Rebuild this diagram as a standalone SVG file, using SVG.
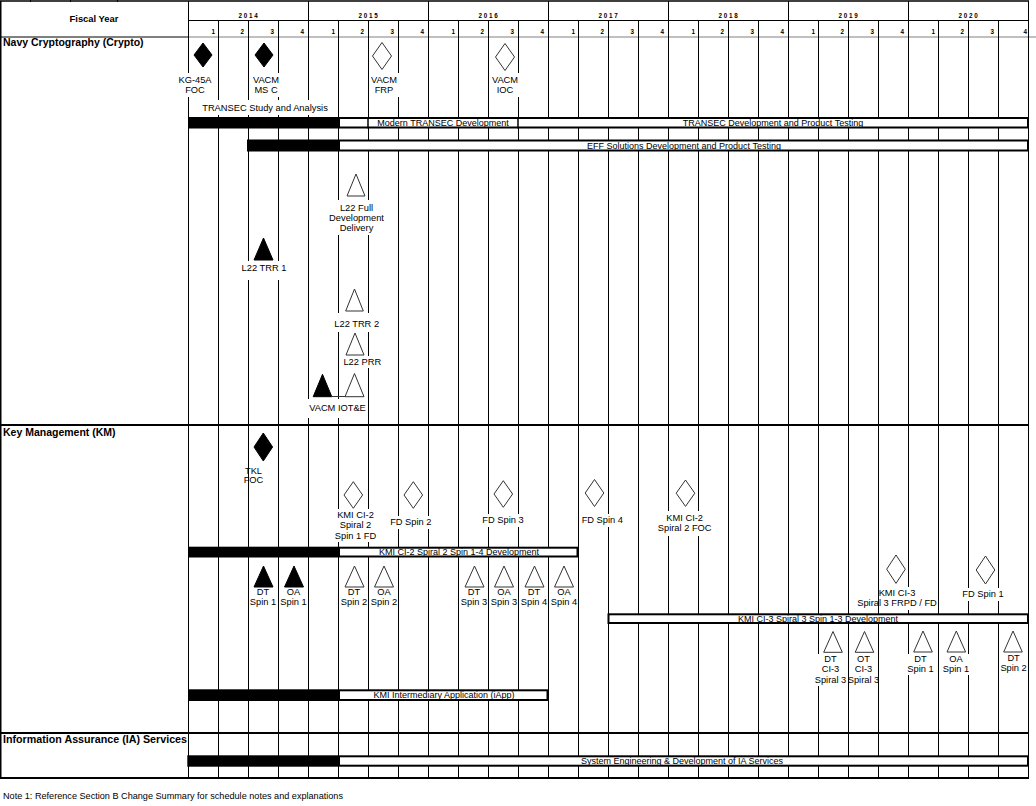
<svg xmlns="http://www.w3.org/2000/svg" width="1036" height="806" viewBox="0 0 1036 806">
<style>
.grid{stroke:#000;stroke-width:1;fill:none}
.sep{stroke:#000;stroke-width:2;fill:none}
.wb{fill:#fff}
.lbl{font-family:"Liberation Sans",Arial,sans-serif;font-size:9.3px;fill:#000;text-anchor:middle}
.btx{font-family:"Liberation Sans",Arial,sans-serif;font-size:9px;fill:#000;text-anchor:middle}
.sec{font-family:"Liberation Sans",Arial,sans-serif;font-size:10.5px;font-weight:bold;fill:#000}
.yr{font-family:"Liberation Sans",Arial,sans-serif;font-size:6.3px;font-weight:bold;letter-spacing:1.7px;fill:#000;text-anchor:middle}
.qn{font-family:"Liberation Sans",Arial,sans-serif;font-size:6.3px;font-weight:bold;fill:#000;text-anchor:end}
.bk{fill:#000}
.box{fill:#fff;stroke:#000;stroke-width:2}
.open{fill:#fff;stroke:#333;stroke-width:1}
.fill{fill:#000;stroke:#000;stroke-width:1}
</style>

<g id="frame">
  <rect x="0" y="0" width="1036" height="806" fill="#fff"/>
  <path class="grid" d="M30.5 0V2M70.5 0V2M117.5 0V2"/>
  <path stroke="#000" stroke-width="1.5" d="M0 1H1029M0.75 1V778"/>
  <path class="grid" d="M188 20.5H1029"/>
  <path stroke="#000" stroke-width="1" d="M0 37H188"/>
  <path stroke="#808080" stroke-width="1" d="M188 37H1036"/>
  <path class="grid" d="M188.5 1V778M308.5 1V778M428.5 1V778M548.5 1V778M668.5 1V778M788.5 1V778M908.5 1V778M1028.5 1V778"/>
  <path class="grid" d="M218.5 20V778M248.5 20V778M278.5 20V778M338.5 20V778M368.5 20V778M398.5 20V778M458.5 20V778M488.5 20V778M518.5 20V778M578.5 20V778M608.5 20V778M638.5 20V778M698.5 20V778M728.5 20V778M758.5 20V778M818.5 20V778M848.5 20V778M878.5 20V778M938.5 20V778M968.5 20V778M998.5 20V778"/>
  <path class="sep" d="M0 425H1029M0 733H1029M0 778H1029"/>
</g>

<g id="header">
  <text x="94" y="22" class="sec" style="font-size:9.4px" text-anchor="middle">Fiscal Year</text>
  <text class="yr" x="249" y="17.5">2014</text>
  <text class="yr" x="369" y="17.5">2015</text>
  <text class="yr" x="489" y="17.5">2016</text>
  <text class="yr" x="609" y="17.5">2017</text>
  <text class="yr" x="729" y="17.5">2018</text>
  <text class="yr" x="849" y="17.5">2019</text>
  <text class="yr" x="969" y="17.5">2020</text>
  <g class="qn">
    <text x="215" y="34">1</text><text x="244" y="34">2</text><text x="274" y="34">3</text><text x="304" y="34">4</text>
    <text x="335" y="34">1</text><text x="364" y="34">2</text><text x="394" y="34">3</text><text x="424" y="34">4</text>
    <text x="455" y="34">1</text><text x="484" y="34">2</text><text x="514" y="34">3</text><text x="544" y="34">4</text>
    <text x="575" y="34">1</text><text x="604" y="34">2</text><text x="634" y="34">3</text><text x="664" y="34">4</text>
    <text x="695" y="34">1</text><text x="724" y="34">2</text><text x="754" y="34">3</text><text x="784" y="34">4</text>
    <text x="815" y="34">1</text><text x="844" y="34">2</text><text x="874" y="34">3</text><text x="904" y="34">4</text>
    <text x="935" y="34">1</text><text x="964" y="34">2</text><text x="994" y="34">3</text><text x="1027" y="34">4</text>
  </g>
</g>

<g id="section-titles">
  <text class="sec" x="3" y="46">Navy Cryptography (Crypto)</text>
  <rect class="wb" x="2" y="734" width="186" height="11"/>
  <text class="sec" x="3" y="435.5">Key Management (KM)</text>
  <text class="sec" x="3" y="743" textLength="184" lengthAdjust="spacingAndGlyphs">Information Assurance (IA) Services</text>
</g>

<!-- white label backgrounds -->
<g id="label-backgrounds" class="wb">
  <rect x="177" y="73" width="38" height="24"/>
  <rect x="251" y="73" width="31" height="24"/>
  <rect x="369" y="73" width="30" height="24"/>
  <rect x="490" y="73" width="30" height="24"/>
  <rect x="200" y="100" width="131" height="15"/>
  <rect x="328" y="200" width="57" height="35"/>
  <rect x="241" y="261" width="46" height="19"/>
  <rect x="333" y="313" width="47" height="19"/>
  <rect x="342" y="356" width="42" height="12"/>
  <rect x="306" y="399" width="61" height="19"/>
  <rect x="252" y="464" width="22" height="22"/>
  <rect x="334" y="509" width="43" height="33"/>
  <rect x="389" y="516" width="44" height="13"/>
  <rect x="481" y="514" width="44" height="13"/>
  <rect x="580" y="514" width="44" height="13"/>
  <rect x="656" y="511" width="58" height="25"/>
  <rect x="880" y="587" width="58" height="23"/>
  <rect x="961" y="588" width="44" height="13"/>
  <rect x="815" y="654" width="31" height="32"/>
  <rect x="849" y="654" width="29" height="32"/>
  <rect x="908" y="654" width="26" height="21"/>
  <rect x="943" y="654" width="27" height="21"/>
  <rect x="1000" y="652" width="27" height="21"/>
</g>

<g id="bar-transec">
  <rect class="bk" x="188" y="117" width="150" height="11.5"/>
  <rect class="box" x="339" y="118" width="689" height="9.5"/>
  <path stroke="#000" stroke-width="1.5" d="M368 117V128.5M518 117V128.5"/>
  <text class="btx" x="443" y="126">Modern TRANSEC Development</text>
  <text class="btx" x="773" y="126">TRANSEC Development and Product Testing</text>
</g>
<g id="label-transec-study"><text class="lbl" x="265" y="111">TRANSEC Study and Analysis</text></g>

<g id="bar-eff">
  <rect class="bk" x="247" y="139.5" width="91" height="12"/>
  <rect class="box" x="339" y="140.5" width="689" height="10"/>
  <text class="btx" x="684" y="148.8">EFF Solutions Development and Product Testing</text>
</g>

<g id="ms-kg45a">
  <path class="fill" d="M203 43L212 55L203 67L194 55Z"/>
  <text class="lbl" x="195" y="83">KG-45A</text><text class="lbl" x="195" y="93">FOC</text>
</g>
<g id="ms-vacm-msc">
  <path class="fill" d="M264 43L273 55L264 67L255 55Z"/>
  <text class="lbl" x="266" y="83">VACM</text><text class="lbl" x="266" y="93">MS C</text>
</g>
<g id="ms-vacm-frp">
  <path class="open" d="M382 42.5L391.5 56L382 69.5L372.5 56Z"/>
  <text class="lbl" x="384" y="83">VACM</text><text class="lbl" x="384" y="93">FRP</text>
</g>
<g id="ms-vacm-ioc">
  <path class="open" d="M505 43.5L514.5 57L505 70.5L495.5 57Z"/>
  <text class="lbl" x="505" y="83">VACM</text><text class="lbl" x="505" y="93">IOC</text>
</g>

<g id="ms-l22-full">
  <path class="open" d="M356 174L365 196L347 196Z"/>
  <text class="lbl" x="356.5" y="211">L22 Full</text>
  <text class="lbl" x="356.5" y="221">Development</text>
  <text class="lbl" x="356.5" y="231.3">Delivery</text>
</g>
<g id="ms-l22-trr1">
  <path class="fill" d="M263.5 238L273 260L254 260Z"/>
  <text class="lbl" x="264" y="270.5">L22 TRR 1</text>
</g>
<g id="ms-l22-trr2">
  <path class="open" d="M354.5 289L363.3 311L345.7 311Z"/>
  <text class="lbl" x="356.7" y="326.5">L22 TRR 2</text>
</g>
<g id="ms-l22-prr">
  <path class="open" d="M355 333L364 355L346 355Z"/>
  <text class="lbl" x="362.3" y="365">L22 PRR</text>
</g>
<g id="ms-vacm-iote">
  <path class="fill" d="M322.5 374.3L331.8 396.7L313.2 396.7Z"/>
  <path class="open" d="M354.5 373.5L364 396.7L345 396.7Z"/>
  <text class="lbl" x="337.5" y="411">VACM IOT&amp;E</text>
</g>

<g id="connectors">
  <path stroke="#333" stroke-width="1" d="M331.5 396.5H345"/>
</g>

<!-- Key Management -->
<g id="ms-tkl-foc">
  <path class="fill" d="M263.3 433L272.6 447L263.3 461L254 447Z"/>
  <text class="lbl" x="253.5" y="473.5" text-anchor="start">TKL</text>
  <text class="lbl" x="253.5" y="483" text-anchor="start">FOC</text>
</g>
<g id="ms-kmi-ci2-s2s1">
  <path class="open" d="M353.3 481.7L362.6 495L353.3 508.3L344 495Z"/>
  <text class="lbl" x="355.5" y="517.6">KMI CI-2</text>
  <text class="lbl" x="355.5" y="528.3">Spiral 2</text>
  <text class="lbl" x="355.5" y="539">Spin 1 FD</text>
</g>
<g id="ms-fd-spin2">
  <path class="open" d="M413.3 481.7L422.6 495L413.3 508.3L404 495Z"/>
  <text class="lbl" x="410.8" y="525">FD Spin 2</text>
</g>
<g id="ms-fd-spin3">
  <path class="open" d="M503.3 480.7L512.6 494L503.3 507.3L494 494Z"/>
  <text class="lbl" x="503" y="522.6">FD Spin 3</text>
</g>
<g id="ms-fd-spin4">
  <path class="open" d="M594.5 479.5L603.8 493L594.5 506.5L585.2 493Z"/>
  <text class="lbl" x="602.3" y="522.6">FD Spin 4</text>
</g>
<g id="ms-kmi-ci2-foc">
  <path class="open" d="M685.5 480L694.8 493.2L685.5 506.4L676.2 493.2Z"/>
  <text class="lbl" x="684.7" y="521">KMI CI-2</text>
  <text class="lbl" x="684.7" y="531">Spiral 2 FOC</text>
</g>

<g id="bar-kmi-ci2">
  <rect class="bk" x="188" y="546.7" width="150" height="10.8"/>
  <rect class="box" x="339" y="547.7" width="238.5" height="8.8"/>
  <text class="btx" x="459" y="555.3">KMI CI-2 Spiral 2 Spin 1-4 Development</text>
</g>

<g id="ms-dt-spin1"><path class="fill" d="M263.5 566L273 587L254 587Z"/><text class="lbl" x="263" y="595">DT</text><text class="lbl" x="263" y="605">Spin 1</text></g>
<g id="ms-oa-spin1"><path class="fill" d="M294 566L303.5 587L284.5 587Z"/><text class="lbl" x="293.5" y="595">OA</text><text class="lbl" x="293.5" y="605">Spin 1</text></g>
<g id="ms-dt-spin2"><path class="open" d="M354.5 566L364 587L345 587Z"/><text class="lbl" x="354" y="595">DT</text><text class="lbl" x="354" y="605">Spin 2</text></g>
<g id="ms-oa-spin2"><path class="open" d="M384 566L393.5 587L374.5 587Z"/><text class="lbl" x="384" y="595">OA</text><text class="lbl" x="384" y="605">Spin 2</text></g>
<g id="ms-dt-spin3"><path class="open" d="M474.5 566L484 587L465 587Z"/><text class="lbl" x="474" y="595">DT</text><text class="lbl" x="474" y="605">Spin 3</text></g>
<g id="ms-oa-spin3"><path class="open" d="M504 566L513.5 587L494.5 587Z"/><text class="lbl" x="504" y="595">OA</text><text class="lbl" x="504" y="605">Spin 3</text></g>
<g id="ms-dt-spin4"><path class="open" d="M534.5 566L544 587L525 587Z"/><text class="lbl" x="534" y="595">DT</text><text class="lbl" x="534" y="605">Spin 4</text></g>
<g id="ms-oa-spin4"><path class="open" d="M564 566L573.5 587L554.5 587Z"/><text class="lbl" x="564" y="595">OA</text><text class="lbl" x="564" y="605">Spin 4</text></g>

<g id="ms-kmi-ci3">
  <path class="open" d="M896 555L905.3 569.2L896 583.4L886.7 569.2Z"/>
  <text class="lbl" x="897" y="596">KMI CI-3</text>
  <text class="lbl" x="897" y="606">Spiral 3 FRPD / FD</text>
</g>
<g id="ms-fd-spin1">
  <path class="open" d="M985.5 556L994.8 570L985.5 584L976.2 570Z"/>
  <text class="lbl" x="983" y="597.3">FD Spin 1</text>
</g>

<g id="bar-kmi-ci3">
  <rect class="box" x="608.5" y="614.3" width="419.5" height="8.7"/>
  <text class="btx" x="818" y="622">KMI CI-3 Spiral 3 Spin 1-3 Development</text>
</g>

<g id="ms-dt-ci3"><path class="open" d="M833 631.5L842.3 652.3L823.7 652.3Z"/><text class="lbl" x="830.5" y="662">DT</text><text class="lbl" x="830.5" y="672">CI-3</text><text class="lbl" x="830.5" y="683.3">Spiral 3</text></g>
<g id="ms-ot-ci3"><path class="open" d="M864.5 631.5L873.8 652.3L855.2 652.3Z"/><text class="lbl" x="863.5" y="662">OT</text><text class="lbl" x="863.5" y="672">CI-3</text><text class="lbl" x="863.5" y="683.3">Spiral 3</text></g>
<g id="ms-dt-spin1-ci3"><path class="open" d="M923 631L932.3 652L913.7 652Z"/><text class="lbl" x="920.5" y="662">DT</text><text class="lbl" x="920.5" y="672">Spin 1</text></g>
<g id="ms-oa-spin1-ci3"><path class="open" d="M956.3 631L965.6 652L947 652Z"/><text class="lbl" x="956" y="662">OA</text><text class="lbl" x="956" y="672">Spin 1</text></g>
<g id="ms-dt-spin2-ci3"><path class="open" d="M1013 631L1022.3 652L1003.7 652Z"/><text class="lbl" x="1013.6" y="660.6">DT</text><text class="lbl" x="1013.6" y="671">Spin 2</text></g>

<g id="bar-kmi-iapp">
  <rect class="bk" x="188" y="689.3" width="150" height="11.7"/>
  <rect class="box" x="339" y="690.3" width="208.5" height="9.7"/>
  <text class="btx" x="444" y="698.3">KMI Intermediary Application (iApp)</text>
</g>

<g id="bar-ia">
  <rect class="bk" x="187.3" y="755.3" width="150.7" height="11.4"/>
  <rect class="box" x="339" y="756.3" width="689" height="9.4"/>
  <text class="btx" x="682" y="764.3">System Engineering &amp; Development of IA Services</text>
</g>

<g id="note">
  <text x="3" y="799" textLength="340" lengthAdjust="spacingAndGlyphs" style="font-family:'Liberation Sans',Arial,sans-serif;font-size:8.8px;fill:#000">Note 1: Reference Section B Change Summary for schedule notes and explanations</text>
</g>
</svg>
